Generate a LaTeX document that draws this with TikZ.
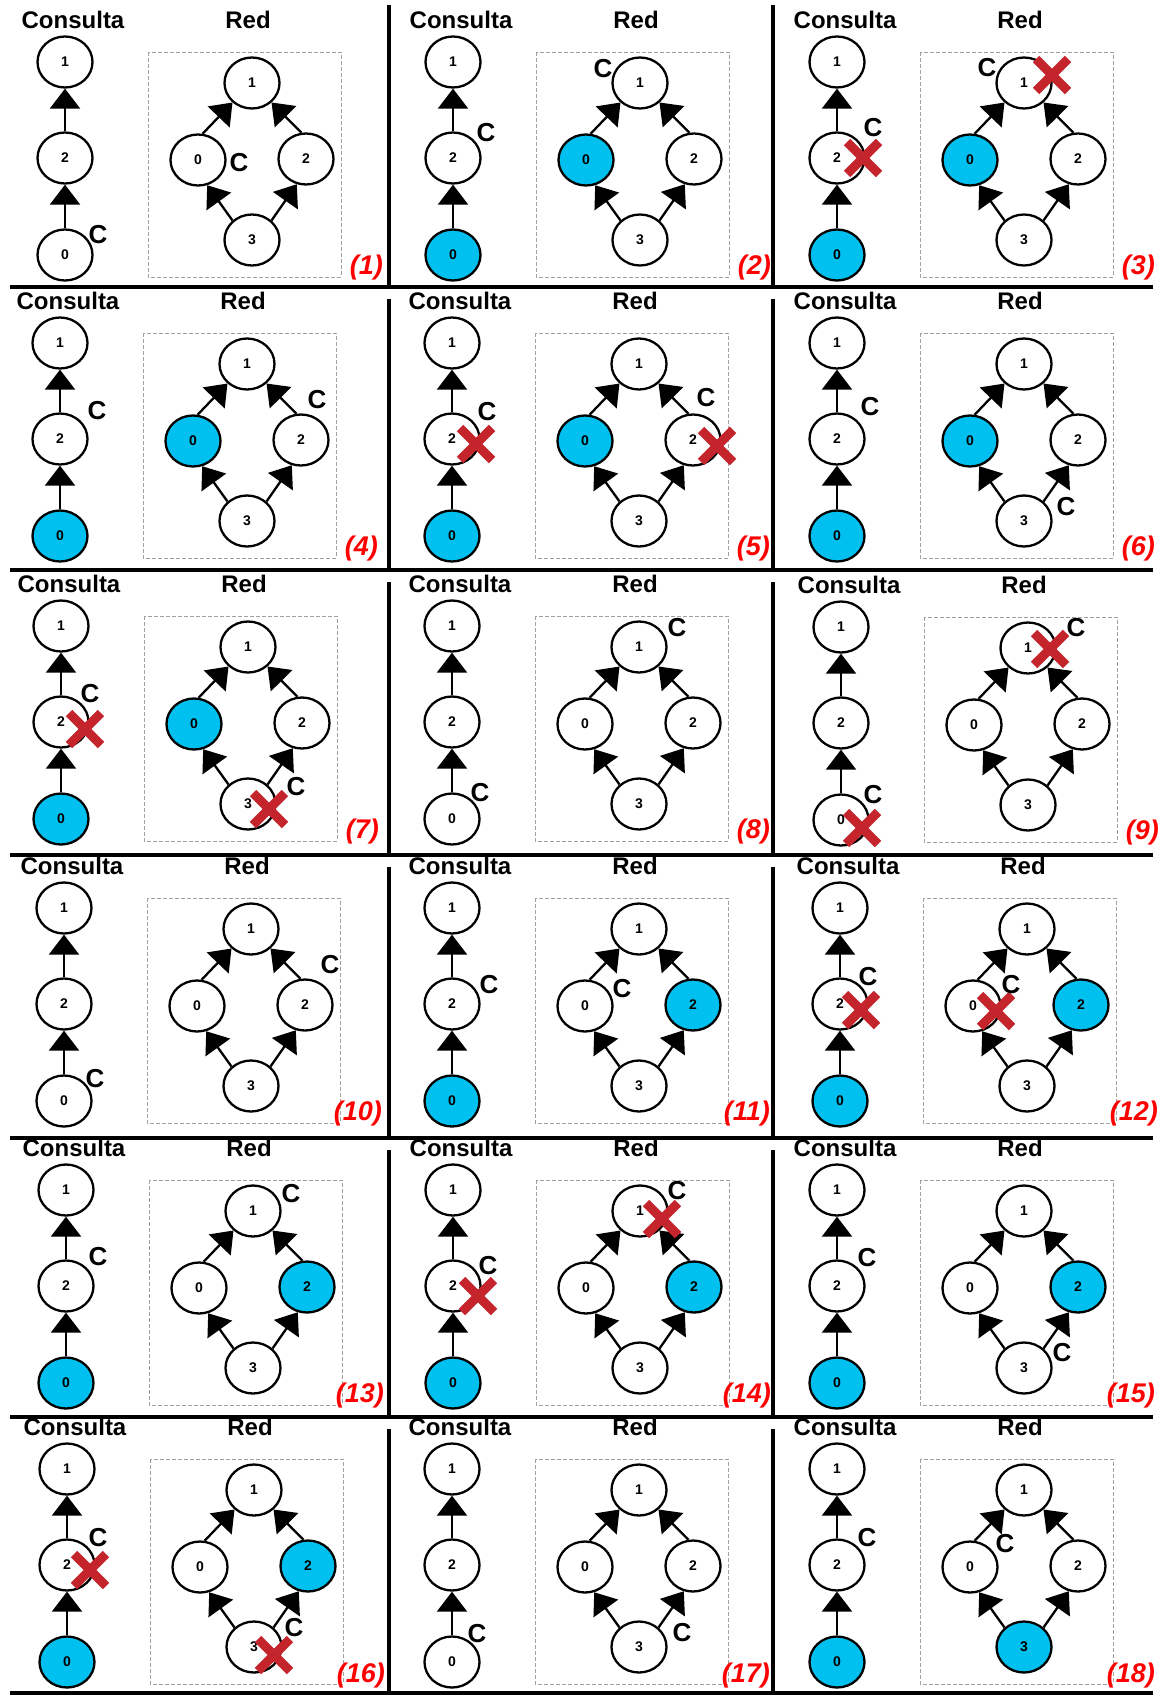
\documentclass[tikz,border=0pt]{standalone}
\usepackage{fontspec}
\setmainfont{Liberation Sans}
\usetikzlibrary{shapes.geometric,arrows.meta,calc}
\definecolor{nodeblue}{RGB}{0,192,240}
\definecolor{xred}{RGB}{196,36,44}
\definecolor{boxgray}{RGB}{160,160,160}
\tikzset{
 vtx/.style={ellipse, draw, line width=2.3pt, minimum width=55pt, minimum height=51pt, inner sep=0pt, font=\fontsize{14}{16}\selectfont\bfseries},
 wn/.style={fill=white},
 bn/.style={fill=nodeblue},
 ptitle/.style={font=\fontsize{24}{27}\selectfont\bfseries, inner sep=0pt},
 clabel/.style={font=\fontsize{26}{29}\selectfont\bfseries, inner sep=0pt},
 numlab/.style={font=\fontsize{27}{30}\selectfont\bfseries\itshape, text=red, inner sep=0pt, anchor=east},
 edgearrow/.style={line width=2.3pt, -{Triangle[width=30pt,length=20pt]}},
 netbox/.style={draw=boxgray, line width=0.9pt, dash pattern=on 4pt off 2pt},
 sepline/.style={line width=4pt},
 xbar/.style={line width=9pt, draw=xred},
}
% id, ox, oy, fill c0, fill r0, fill r2, fill r3, number
\newcommand\drawpanel[8]{%
\begin{scope}[shift={(#2,#3)}]
\node[ptitle] (#1tc) at (73,20) {Consulta};
\node[ptitle] (#1tr) at (248,20) {Red};
\draw[netbox] (148,52) rectangle (341,277);
\node[vtx,wn] (#1c1) at (65,62) {1};
\node[vtx,wn] (#1c2) at (65,158) {2};
\node[vtx,#4] (#1c0) at (65,255) {0};
\node[vtx,wn] (#1r1) at (252,83) {1};
\node[vtx,#5] (#1r0) at (198,160) {0};
\node[vtx,#6] (#1r2) at (306,159) {2};
\node[vtx,#7] (#1r3) at (252,240) {3};
\node[numlab] (#1n) at (383,268) {(#8)};
\end{scope}
\draw[edgearrow] (#1c0.north) -- (#1c2.south);
\draw[edgearrow] (#1c2.north) -- (#1c1.south);
\draw[edgearrow] (#1r0.80) -- (#1r1.225);
\draw[edgearrow] (#1r2.100) -- (#1r1.315);
\draw[edgearrow] (#1r3.135) -- (#1r0.290);
\draw[edgearrow] (#1r3.45) -- (#1r2.250);
}
\newcommand\putC[3]{\node[clabel] (#1C) at ($(#1)+(#2,#3)$) {C};}
\newcommand\putX[3]{\coordinate (#1X) at ($(#1)+(#2,#3)$);
 \draw[xbar] ($(#1X)+(-16,-16)$) -- ($(#1X)+(16,16)$);
 \draw[xbar] ($(#1X)+(-16,16)$) -- ($(#1X)+(16,-16)$);}
\begin{document}
\begin{tikzpicture}[x=1pt,y=-1pt]
\fill[white] (0,0) rectangle (1164,1696);
\useasboundingbox (0,0) rectangle (1164,1696);
% separators
\foreach \yy in {287,570,855,1138,1417,1693} {\draw[sepline] (10,\yy) -- (1153,\yy);}
\foreach \tt/\bb in {5/287,299/570,582/855,867/1138,1150/1417,1429/1693} {
 \draw[sepline] (389,\tt) -- (389,\bb);
 \draw[sepline] (773,\tt) -- (773,\bb);}
% panels
\drawpanel{p1}{0}{0}{wn}{wn}{wn}{wn}{1}
\drawpanel{p2}{388}{0}{bn}{bn}{wn}{wn}{2}
\drawpanel{p3}{772}{0}{bn}{bn}{wn}{wn}{3}
\drawpanel{p4}{-5}{281}{bn}{bn}{wn}{wn}{4}
\drawpanel{p5}{387}{281}{bn}{bn}{wn}{wn}{5}
\drawpanel{p6}{772}{281}{bn}{bn}{wn}{wn}{6}
\drawpanel{p7}{-4}{564}{bn}{bn}{wn}{wn}{7}
\drawpanel{p8}{387}{564}{wn}{wn}{wn}{wn}{8}
\drawpanel{p9}{776}{565}{wn}{wn}{wn}{wn}{9}
\drawpanel{p10}{-1}{846}{wn}{wn}{wn}{wn}{10}
\drawpanel{p11}{387}{846}{bn}{wn}{bn}{wn}{11}
\drawpanel{p12}{775}{846}{bn}{wn}{bn}{wn}{12}
\drawpanel{p13}{1}{1128}{bn}{wn}{bn}{wn}{13}
\drawpanel{p14}{388}{1128}{bn}{wn}{bn}{wn}{14}
\drawpanel{p15}{772}{1128}{bn}{wn}{bn}{wn}{15}
\drawpanel{p16}{2}{1407}{bn}{wn}{bn}{wn}{16}
\drawpanel{p17}{387}{1407}{wn}{wn}{wn}{wn}{17}
\drawpanel{p18}{772}{1407}{bn}{wn}{wn}{bn}{18}
% crosses
\putX{p3c2}{26}{0} \putX{p3r1}{28}{-8}
\putX{p5c2}{24}{5} \putX{p5r2}{24}{6}
\putX{p7c2}{24}{7} \putX{p7r3}{21}{5}
\putX{p9c0}{21}{8} \putX{p9r1}{22}{1}
\putX{p12c2}{21}{6} \putX{p12r0}{23}{5}
\putX{p14c2}{25}{10} \putX{p14r1}{22}{8}
\putX{p16c2}{23}{5} \putX{p16r3}{20}{8}
% C labels
\putC{p1c0}{33}{-20} \putC{p1r0}{41}{3}
\putC{p2c2}{33}{-25} \putC{p2r1}{-37}{-14}
\putC{p3c2}{36}{-30} \putC{p3r1}{-37}{-15}
\putC{p4c2}{37}{-28} \putC{p4r2}{16}{-40}
\putC{p5c2}{35}{-27} \putC{p5r2}{13}{-42}
\putC{p6c2}{33}{-32} \putC{p6r3}{42}{-14}
\putC{p7c2}{29}{-28} \putC{p7r3}{48}{-17}
\putC{p8c0}{28}{-26} \putC{p8r1}{38}{-19}
\putC{p9c0}{32}{-25} \putC{p9r1}{48}{-20}
\putC{p10c0}{31}{-22} \putC{p10r2}{25}{-40}
\putC{p11c2}{37}{-19} \putC{p11r0}{37}{-17}
\putC{p12c2}{28}{-27} \putC{p12r0}{38}{-21}
\putC{p13c2}{32}{-29} \putC{p13r1}{38}{-17}
\putC{p14c2}{35}{-20} \putC{p14r1}{37}{-20}
\putC{p15c2}{30}{-28} \putC{p15r3}{38}{-15}
\putC{p16c2}{31}{-27} \putC{p16r3}{40}{-19}
\putC{p17c0}{25}{-28} \putC{p17r3}{43}{-14}
\putC{p18c2}{30}{-27} \putC{p18r0}{35}{-23}
\end{tikzpicture}
\end{document}
